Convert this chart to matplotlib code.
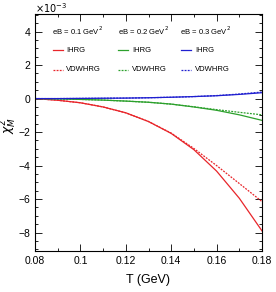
import matplotlib
matplotlib.use("Agg")
import matplotlib.pyplot as plt
from matplotlib.ticker import MultipleLocator

plt.rcParams['font.family'] = ['Liberation Sans', 'DejaVu Sans']

# temperature grid (GeV)
T = [0.08, 0.09, 0.10, 0.11, 0.12, 0.13, 0.14, 0.15, 0.16, 0.17, 0.18]

# chi^2_M in units of 1e-3
ihrg_01 = [0.0, -0.1, -0.25, -0.5, -0.85, -1.37, -2.08, -3.05, -4.33, -5.95, -7.9]
vdw_01 = [0.0, -0.1, -0.25, -0.5, -0.85, -1.37, -2.06, -2.98, -4.0, -5.07, -6.15]
ihrg_02 = [0.0, -0.02, -0.05, -0.09, -0.15, -0.22, -0.33, -0.5, -0.7, -0.97, -1.3]
vdw_02 = [0.0, -0.02, -0.05, -0.09, -0.15, -0.22, -0.33, -0.49, -0.66, -0.82, -0.97]
ihrg_03 = [0.0, 0.0, 0.01, 0.02, 0.03, 0.05, 0.08, 0.12, 0.17, 0.25, 0.35]
vdw_03 = [0.0, 0.0, 0.01, 0.02, 0.03, 0.05, 0.08, 0.12, 0.18, 0.27, 0.39]

fig = plt.figure(figsize=(2.76, 2.92), dpi=100)
ax = fig.add_axes([35 / 276, 1 - 251 / 292, 227 / 276, 237 / 292])

red, green, blue = '#e8252a', '#2ca02c', '#1f1fd0'
dash = (0, (1.5, 1))
ax.plot(T, ihrg_01, color=red, lw=0.9)
ax.plot(T, vdw_01, color=red, lw=0.9, ls=dash)
ax.plot(T, ihrg_02, color=green, lw=0.9)
ax.plot(T, vdw_02, color=green, lw=0.9, ls=dash)
ax.plot(T, ihrg_03, color=blue, lw=0.9)
ax.plot(T, vdw_03, color=blue, lw=0.9, ls=dash)

ax.set_xlim(0.08, 0.18)
ax.set_ylim(-9.1, 5.05)
ax.set_xticks([0.08, 0.1, 0.12, 0.14, 0.16, 0.18])
ax.set_xticklabels(['0.08', '0.1', '0.12', '0.14', '0.16', '0.18'])
ax.set_yticks([-8, -6, -4, -2, 0, 2, 4])
ax.set_yticklabels(['\u22128', '\u22126', '\u22124', '\u22122', '0', '2', '4'])
ax.xaxis.set_minor_locator(MultipleLocator(0.01))
ax.yaxis.set_minor_locator(MultipleLocator(0.5))
ax.tick_params(which='both', direction='in', top=True, right=True, labelsize=7.5, width=0.6)
ax.tick_params(which='major', length=5)
ax.tick_params(which='minor', length=2.5)
for s in ax.spines.values():
    s.set_linewidth(0.8)

ax.set_xlabel('T (GeV)', fontsize=9, labelpad=6)
ax.set_ylabel(r'$\chi^2_M$', fontsize=9)
ax.yaxis.set_label_coords(-0.07, 0.53)
fig.text(35 / 276, 1 - 8 / 292, r'$\times10^{-3}$', fontsize=7, va='center', ha='left')

# legend blocks: (title, colour, title x, line start, line end, label x)
cols = [('eB = 0.1 GeV$^2$', red, 0.0875, 0.0879, 0.0923, 0.0937),
        ('eB = 0.2 GeV$^2$', green, 0.1166, 0.1166, 0.1210, 0.1227),
        ('eB = 0.3 GeV$^2$', blue, 0.1439, 0.1443, 0.1487, 0.1505)]
for lab, c, xt, xa, xb, xl in cols:
    ax.text(xt, 4.03, lab, fontsize=5.5, va='center')
    ax.plot([xa, xb], [2.9, 2.9], color=c, lw=0.9)
    ax.text(xl, 2.9, 'IHRG', fontsize=5.5, va='center')
    ax.plot([xa, xb], [1.71, 1.71], color=c, lw=0.9, ls=dash)
    ax.text(xl, 1.71, 'VDWHRG', fontsize=5.5, va='center')

fig.savefig('out.png', dpi=100)
